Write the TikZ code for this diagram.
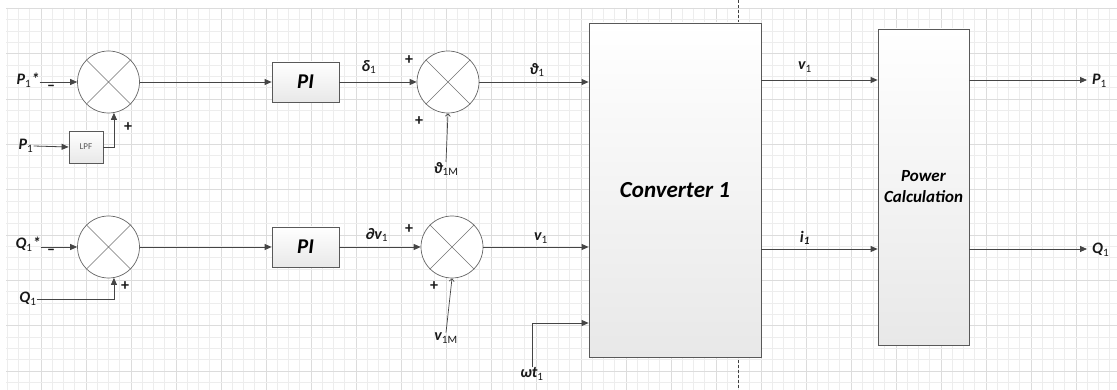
\documentclass[tikz,border=0pt]{standalone}
\usepackage{fontspec}
\setmainfont{Carlito}
\usetikzlibrary{arrows.meta}
\definecolor{gminor}{HTML}{EDEDED}
\definecolor{gmajor}{HTML}{DCDCDC}
\definecolor{ink}{HTML}{454545}
\newcommand{\sbs}[1]{\textsubscript{\mdseries\upshape #1}}
\begin{document}
\begin{tikzpicture}[x=1pt,y=-1pt,
  lbl/.style={font=\fontsize{16}{18}\selectfont\bfseries\itshape, text=black!90, inner sep=0},
  sgn/.style={font=\fontsize{16}{18}\selectfont\bfseries, text=black!90, inner sep=0},
  sumj/.style={circle, draw=black!60, fill=white, minimum size=62pt, inner sep=0, line width=0.7pt},
  xline/.style={draw=black!55, line width=0.6pt},
  blk/.style={draw=black!65, top color=white, bottom color=black!9, line width=0.8pt, inner sep=0},
  arr/.style={draw=ink, line width=0.8pt, -{Triangle[length=7pt,width=6pt]}},
  arrthin/.style={draw=ink, line width=0.7pt, -{Straight Barb[length=2.5pt,width=5pt]}},
  minorl/.style={draw=gminor, line width=0.9pt},
  majorl/.style={draw=gmajor, line width=0.9pt}
]
\useasboundingbox (0,0) rectangle (1117,390);
\fill[white] (0,0) rectangle (1117,390);
% grid
\foreach \k in {0,...,98}{
  \pgfmathsetmacro\xx{7.25+11.25*\k}
  \pgfmathtruncatemacro\m{mod(\k,4)}
  \ifnum\m=3 \draw[majorl] (\xx,8) -- (\xx,390); \else \draw[minorl] (\xx,8) -- (\xx,390); \fi
}
\foreach \k in {0,...,33}{
  \pgfmathsetmacro\yy{8.3+11.34*\k}
  \pgfmathtruncatemacro\m{mod(\k,4)}
  \ifnum\m=0 \draw[majorl] (6,\yy) -- (1117,\yy); \else \draw[minorl] (6,\yy) -- (1117,\yy); \fi
}
% dashed separator
\draw[black!75, line width=0.6pt, dash pattern=on 3pt off 2pt] (738,0) -- (738,390);

% blocks
\node[sumj] (s1) at (108.5,82) {};
\node[sumj] (s2) at (448,82) {};
\node[sumj] (s3) at (108.5,247) {};
\node[sumj] (s4) at (452,247) {};
\foreach \s in {s1,s2,s3,s4}{
  \draw[xline] (\s.north east) -- (\s.south west) (\s.north west) -- (\s.south east);
}
\node[blk, minimum width=34pt, minimum height=32pt, font=\fontsize{9}{10}\selectfont, text=black!65] (lpf) at (86,147) {LPF};
\node[blk, minimum width=67pt, minimum height=40pt, font=\fontsize{21}{24}\selectfont\bfseries\itshape] (pi1) at (305.5,82) {PI};
\node[blk, minimum width=67pt, minimum height=40pt, font=\fontsize{21}{24}\selectfont\bfseries\itshape] (pi2) at (305.5,247) {PI};
\node[blk, minimum width=172pt, minimum height=334pt, font=\fontsize{23}{26}\selectfont\bfseries\itshape] (conv) at (675,190) {Converter 1};
\node[blk, minimum width=91pt, minimum height=316pt, align=center, font=\fontsize{17}{21}\selectfont\bfseries\itshape] (pc) at (923.5,187) {Power\\Calculation};

% labels
\node[lbl] (p1s) at (28,80) {P\sbs{1}*};
\node[sgn] (m1) at (51,88) {–};
\node[lbl] (p1) at (26,146) {P\sbs{1}};
\node[sgn] (pl1) at (128,127) {+};
\node[lbl] (q1s) at (28,244) {Q\sbs{1}*};
\node[sgn] (m2) at (51,252) {–};
\node[lbl] (q1) at (28,299) {Q\sbs{1}};
\node[sgn] (pl2) at (125,286) {+};

\node[lbl] (d1) at (369,67) {δ\sbs{1}};
\node[sgn] (pl3) at (409,60) {+};
\node[sgn] (pl4) at (419,121) {+};
\node[lbl] (t1m) at (446,169) {ϑ\sbs{1M}};
\node[lbl] (t1) at (537,70) {ϑ\sbs{1}};

\node[lbl] (dv1) at (377,235) {∂v\sbs{1}};
\node[sgn] (pl5) at (409,229) {+};
\node[sgn] (pl6) at (434,286) {+};
\node[lbl] (v1m) at (446,338) {v\sbs{1M}};
\node[lbl] (v1) at (541,238) {v\sbs{1}};
\node[lbl] (wt) at (532,374) {ωt\sbs{1}};

\node[lbl] (v1o) at (805,67) {v\sbs{1}};
\node[lbl] (i1o) at (805,238) {i\textsubscript{1}};
\node[lbl, anchor=west] (po) at (1092,81) {P\sbs{1}};
\node[lbl, anchor=west] (qo) at (1092,250) {Q\sbs{1}};

% coordinates for levels
\coordinate (yv) at (0,80);
\coordinate (yi) at (0,249);
\coordinate (yw) at (0,323);

% connectors row 1
\draw[arr] (p1s.east |- s1.west) -- (s1.west);
\draw[arr] (p1.east) -- (lpf.west);
\draw[arr] (lpf.east) -| (s1.-80);
\draw[arr] (s1.east) -- (pi1.west);
\draw[arr] (pi1.east) -- (s2.west);
\draw[arrthin] (t1m.north) -- (s2.south);
\draw[arr] (s2.east) -- (s2.east -| conv.west);
% row 2
\draw[arr] (q1s.east |- s3.west) -- (s3.west);
\draw[arr] (q1.east) -| (s3.-80);
\draw[arr] (s3.east) -- (pi2.west);
\draw[arr] (pi2.east) -- (s4.west);
\draw[arrthin] (v1m.north) -- (s4.south);
\draw[arr] (s4.east) -- (s4.east -| conv.west);
\draw[arr] (wt.north) |- (conv.west |- yw);
% outputs
\draw[arr] (conv.east |- yv) -- (pc.west |- yv);
\draw[arr] (conv.east |- yi) -- (pc.west |- yi);
\draw[arr] (pc.east |- yv) -- ([xshift=-5pt]po.west |- yv);
\draw[arr] (pc.east |- yi) -- ([xshift=-5pt]qo.west |- yi);
\end{tikzpicture}
\end{document}
